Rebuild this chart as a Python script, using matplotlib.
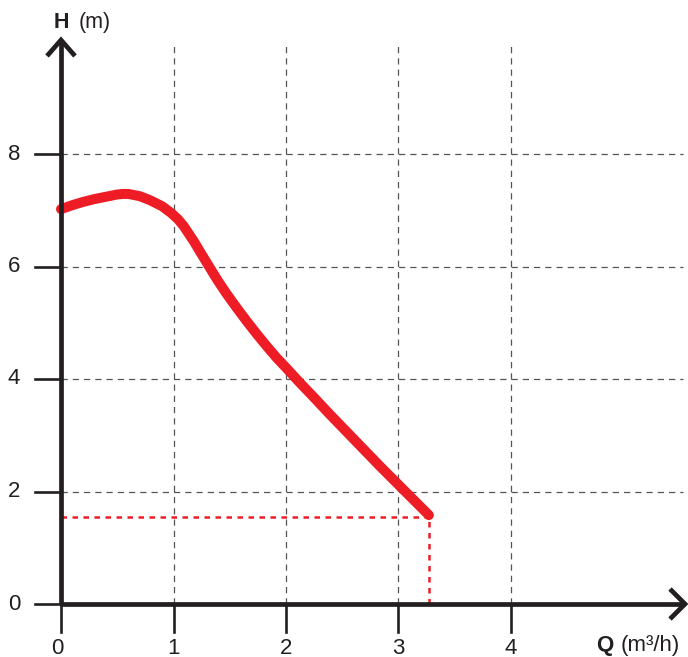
import numpy as np
import matplotlib
matplotlib.use("Agg")
import matplotlib.pyplot as plt

plt.rcParams["font.family"] = ["Liberation Sans", "DejaVu Sans"]

# pump curve H(Q)
Q = [0.0, 0.1, 0.2, 0.3, 0.4, 0.5, 0.55, 0.6, 0.7, 0.79, 0.9, 0.98, 1.04, 1.09, 1.13, 1.18, 1.24,
     1.31, 1.39, 1.47, 1.56, 1.65, 1.74, 1.83, 1.92, 2.01, 2.12, 2.24, 2.39, 2.54, 2.69, 2.84,
     2.96, 3.07, 3.17, 3.27]
H = [7.02, 7.09, 7.15, 7.20, 7.24, 7.28, 7.29, 7.29, 7.25, 7.18, 7.07, 6.95, 6.84, 6.72, 6.60,
     6.45, 6.25, 6.02, 5.76, 5.52, 5.27, 5.03, 4.80, 4.58, 4.37, 4.18, 3.94, 3.69, 3.37, 3.06,
     2.75, 2.44, 2.20, 1.98, 1.78, 1.58]
op_q, op_h = 3.27, 1.54          # operating point (dotted guides)
xticks = [0, 1, 2, 3, 4]
yticks = [0, 2, 4, 6, 8]

W, Hpx = 688, 657
x0px, y0px, sx, sy = 61, 604, 112.5, 56.25   # pixel placement of the origin and scale
fig = plt.figure(figsize=(W / 100, Hpx / 100), dpi=100)
ax = fig.add_axes([0, 0, 1, 1])
ax.set_xlim(-x0px / sx, (W - x0px) / sx)
ax.set_ylim(-(Hpx - y0px) / sy, y0px / sy)
ax.axis("off")
px = lambda p: p / sx   # pixel -> data length, x
py = lambda p: p / sy   # pixel -> data length, y

xtop, ytop = px(685 - x0px), py(y0px - 40)
gxend, gytop = px(683 - x0px), py(y0px - 45)
grid = dict(color="#555555", lw=0.9, ls=(0, (5, 4)), zorder=1)
for x in xticks[1:]:
    ax.plot([x, x], [0, gytop], **grid)
for y in yticks[1:]:
    ax.plot([0, gxend], [y, y], **grid)

# operating point guides
dot = dict(color="#ee1c25", lw=1.8, ls=(0, (2.2, 2.2)), zorder=2)
ax.plot([0, op_q], [op_h, op_h], **dot)
ax.plot([op_q, op_q], [0, op_h], **dot)

# curve
ax.plot(Q, H, color="#ee1c25", lw=7.2, solid_capstyle="round", solid_joinstyle="round", zorder=4)

# axes with open arrowheads
k = "#231f20"
ax.plot([0, 0], [0, ytop], color=k, lw=3.4, zorder=5, solid_capstyle="butt")
ax.plot([-px(1.5), xtop], [0, 0], color=k, lw=3.4, zorder=5, solid_capstyle="butt")
ax.plot([-px(14), 0, px(14)], [ytop - py(16), ytop, ytop - py(16)], color=k, lw=3.4,
        solid_joinstyle="miter", solid_capstyle="butt", zorder=5)
ax.plot([xtop - px(15), xtop, xtop - px(15)], [py(15), 0, -py(15)], color=k, lw=3.4,
        solid_joinstyle="miter", solid_capstyle="butt", zorder=5)

# ticks and labels
for x in xticks:
    ax.plot([x, x], [0, -py(28)], color=k, lw=1.9, zorder=5)
    ax.text(x - (px(4) if x == 0 else 0), -py(44), str(x), ha="center", va="center", fontsize=16, color=k)
for y in yticks:
    ax.plot([-px(26), 0], [y, y], color=k, lw=1.9, zorder=5)
    ax.text(-px(47), y, str(y), ha="center", va="center", fontsize=16, color=k)

ax.text(-px(7), py(y0px - 28), "H", fontweight="bold", fontsize=15.5, ha="left", va="baseline", color=k)
ax.text(px(79 - x0px), py(y0px - 28), "(m)", fontsize=15.5, ha="left", va="baseline", color=k)
ax.text(px(596 - x0px), -py(651 - y0px), "Q", fontweight="bold", fontsize=16, ha="left", va="baseline", color=k)
ax.text(px(621 - x0px), -py(651 - y0px), "(m³/h)", fontsize=16, ha="left", va="baseline", color=k)

fig.savefig("out.png", dpi=100, facecolor="white")
